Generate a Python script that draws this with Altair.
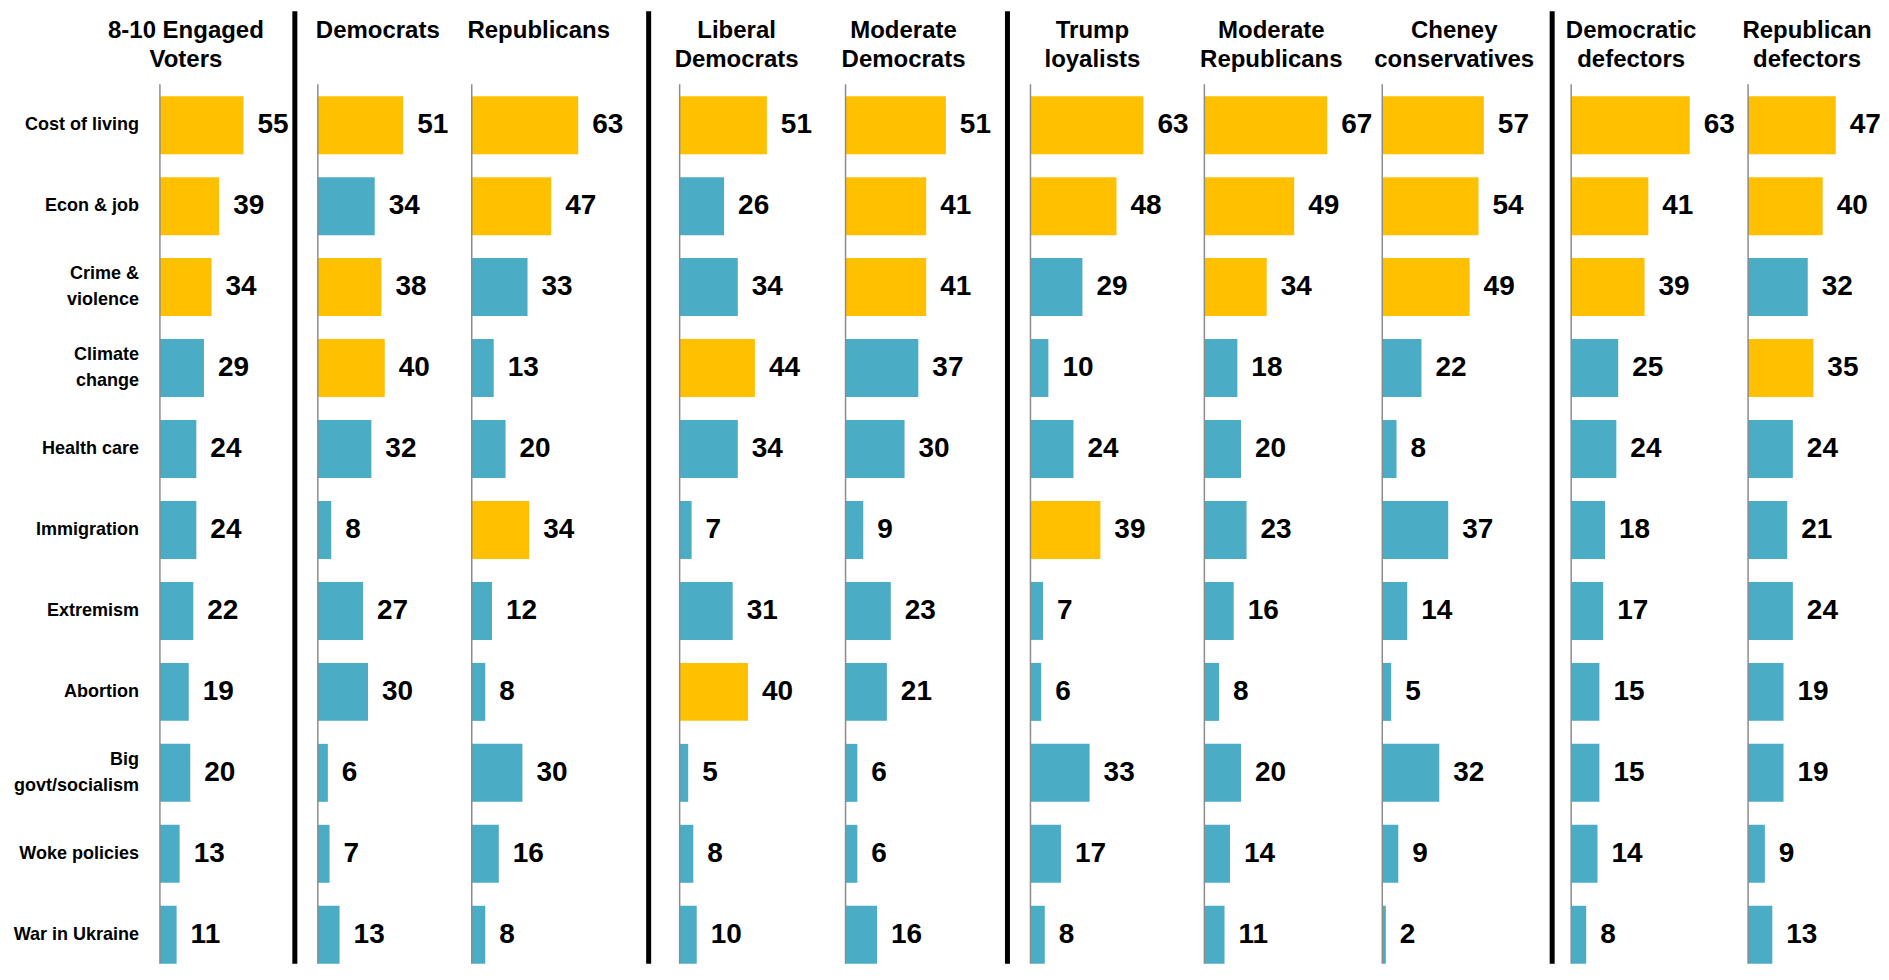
import altair as alt
import pandas as pd

issues = ["Cost of living", "Econ & job", "Crime & violence", "Climate change", "Health care",
          "Immigration", "Extremism", "Abortion", "Big govt/socialism", "Woke policies", "War in Ukraine"]
issue_labels = ["Cost of living", "Econ & job", "Crime &|violence", "Climate|change", "Health care",
                "Immigration", "Extremism", "Abortion", "Big|govt/socialism", "Woke policies", "War in Ukraine"]

titles = ["8-10 Engaged|Voters", "Democrats", "Republicans", "Liberal|Democrats", "Moderate|Democrats",
          "Trump|loyalists", "Moderate|Republicans", "Cheney|conservatives", "Democratic|defectors",
          "Republican|defectors"]

engaged = [55, 39, 34, 29, 24, 24, 22, 19, 20, 13, 11]
democrats = [51, 34, 38, 40, 32, 8, 27, 30, 6, 7, 13]
republicans = [63, 47, 33, 13, 20, 34, 12, 8, 30, 16, 8]
liberal_dems = [51, 26, 34, 44, 34, 7, 31, 40, 5, 8, 10]
moderate_dems = [51, 41, 41, 37, 30, 9, 23, 21, 6, 6, 16]
trump_loyalists = [63, 48, 29, 10, 24, 39, 7, 6, 33, 17, 8]
moderate_reps = [67, 49, 34, 18, 20, 23, 16, 8, 20, 14, 11]
cheney_cons = [57, 54, 49, 22, 8, 37, 14, 5, 32, 9, 2]
dem_defectors = [63, 41, 39, 25, 24, 18, 17, 15, 15, 14, 8]
rep_defectors = [47, 40, 32, 35, 24, 21, 24, 19, 19, 9, 13]

series = [engaged, democrats, republicans, liberal_dems, moderate_dems, trump_loyalists,
          moderate_reps, cheney_cons, dem_defectors, rep_defectors]

# layout parameters (pixels)
H = 868
LEFT = 152
TOP = 88
widths = [158, 154, 208, 166, 185, 174, 178, 189, 177, 126]
domains = [104, 92, 123, 97, 94, 97, 97, 106, 94, 67.5]
title_dx = [26, 60, 67, 57, 58, 62, 67, 72, 60, 59]
separators = {1: -23, 3: -31, 5: -23, 8: -19}

GOLD = "#FFC000"
TEAL = "#4BACC6"
FONT = "Liberation Sans"


def panel(i):
    vals = series[i]
    top3 = sorted(vals, reverse=True)[2]
    df = pd.DataFrame({
        "issue": issues,
        "value": vals,
        "grp": ["top" if v >= top3 else "other" for v in vals],
        "lab": issue_labels,
        "two": ["|" in s for s in issue_labels],
    })
    base = alt.Chart(df)
    y = alt.Y("issue:N", sort=issues, axis=None,
              scale=alt.Scale(paddingInner=0.284, paddingOuter=0))
    x = alt.X("value:Q", axis=None, scale=alt.Scale(domain=[0, domains[i]]))
    bars = base.mark_bar().encode(
        y=y, x=x,
        color=alt.Color("grp:N", scale=alt.Scale(domain=["top", "other"], range=[GOLD, TEAL]), legend=None),
    )
    labels = base.mark_text(align="left", baseline="middle", dx=14, font=FONT, fontSize=28,
                            fontWeight="bold", color="#000000").encode(y=y, x=x, text="value:Q")
    one = alt.Chart(pd.DataFrame({"t": [titles[i]]}))
    axis_line = one.mark_rule(color="#8c8c8c", strokeWidth=1.5).encode(
        x=alt.value(0), y=alt.value(-12), y2=alt.value(H))
    title = one.mark_text(lineBreak="|", align="center", baseline="top", font=FONT, fontSize=24,
                          fontWeight="bold", lineHeight=29, color="#000000").encode(
        x=alt.value(title_dx[i]), y=alt.value(-77), text="t:N")
    layers = [bars, labels, axis_line, title]
    if i in separators:
        sx = separators[i]
        layers.append(one.mark_rule(color="#000000", strokeWidth=5).encode(
            x=alt.value(sx), y=alt.value(-85), y2=alt.value(H)))
    if i == 0:
        cat_style = dict(lineBreak="|", align="right", baseline="middle", font=FONT, fontSize=18,
                         fontWeight="bold", lineHeight=26, color="#000000")
        cat1 = base.mark_text(**cat_style).encode(y=y, x=alt.value(-21), text="lab:N").transform_filter(
            "!datum.two")
        cat2 = base.mark_text(dy=-13, **cat_style).encode(y=y, x=alt.value(-21), text="lab:N").transform_filter(
            "datum.two")
        anchor = one.mark_rule(opacity=0).encode(
            x=alt.value(-LEFT), y=alt.value(-TOP), y2=alt.value(0))
        layers += [cat1, cat2, anchor]
    return alt.layer(*layers).properties(width=widths[i], height=H)


chart = alt.hconcat(*[panel(i) for i in range(len(series))], spacing=0, bounds="flush").properties(
    padding=0
).configure(font=FONT).configure_view(stroke=None)

chart.save("out.html", embed_options={"renderer": "svg", "actions": False})
